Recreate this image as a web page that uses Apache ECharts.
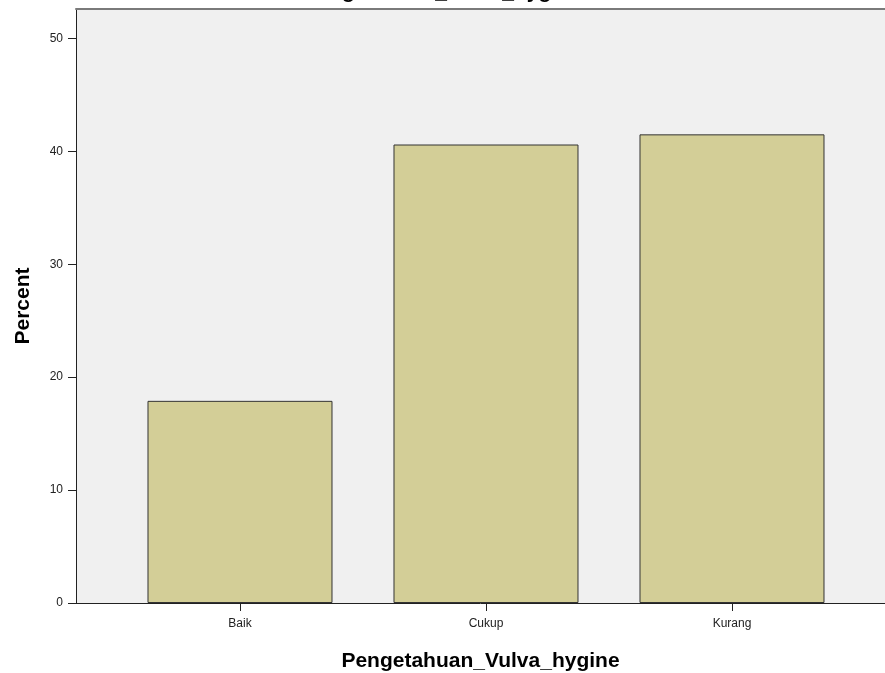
<!DOCTYPE html>
<html>
<head>
<meta charset="utf-8">
<script src="https://cdn.jsdelivr.net/npm/echarts@6/dist/echarts.min.js"></script>
<style>
html,body{margin:0;padding:0;background:#fff;}
#c{width:885px;height:673px;}
</style>
</head>
<body>
<div id="c"></div>
<script>
const categories = ["Baik", "Cukup", "Kurang"];
const percentValues = [17.9, 40.6, 41.5];
const yTicks = [0, 10, 20, 30, 40, 50];
const chartTitle = "Pengetahuan_Vulva_hygine";
const xTitle = "Pengetahuan_Vulva_hygine";
const yTitle = "Percent";

const chart = echarts.init(document.getElementById('c'), null, {renderer: 'canvas'});
const font = 'Arial, "Liberation Sans", sans-serif';
const catIdx = categories.map((_, i) => i);
chart.setOption({
  animation: false,
  backgroundColor: '#ffffff',
  title: {
    text: chartTitle,
    left: 'center',
    top: -23,
    textStyle: {fontFamily: font, fontWeight: 'bold', fontSize: 21, color: '#000'}
  },
  grid: {
    left: 76, top: 9, right: 0, bottom: 70,
    show: true, backgroundColor: '#F0F0F0', borderWidth: 0,
    containLabel: false,
    outerBoundsMode: 'none'
  },
  xAxis: [{
    type: 'value',
    min: -2/3, max: 2.622,
    name: xTitle,
    nameLocation: 'middle',
    nameGap: 48,
    nameTextStyle: {fontFamily: font, fontWeight: 'bold', fontSize: 21, color: '#000'},
    axisLine: {show: true, onZero: false, lineStyle: {color: '#222', width: 1}},
    axisTick: {show: true, customValues: catIdx, length: 8, inside: false, lineStyle: {color: '#222'}},
    axisLabel: {
      customValues: catIdx, margin: 15,
      formatter: v => categories[Math.round(v)] || '',
      fontFamily: font, fontSize: 12, color: '#222'
    },
    splitLine: {show: false}
  }, {
    type: 'value',
    position: 'top',
    min: -2/3, max: 2.622,
    axisLine: {show: true, onZero: false, lineStyle: {color: '#7a7a7a', width: 2}},
    axisTick: {show: false},
    axisLabel: {show: false},
    splitLine: {show: false}
  }],
  yAxis: {
    type: 'value',
    min: 0, max: 52.6,
    name: yTitle,
    nameLocation: 'middle',
    nameGap: 42,
    nameRotate: 90,
    nameTextStyle: {fontFamily: font, fontWeight: 'bold', fontSize: 21, color: '#000'},
    axisLine: {show: true, onZero: false, lineStyle: {color: '#222', width: 1}},
    axisTick: {show: true, customValues: yTicks, length: 8, lineStyle: {color: '#222'}},
    axisLabel: {customValues: yTicks, margin: 13, fontFamily: font, fontSize: 12, color: '#222'},
    splitLine: {show: false}
  },
  series: [{
    type: 'bar',
    xAxisIndex: 0,
    data: percentValues.map((v, i) => [i, v]),
    barWidth: 185,
    itemStyle: {color: '#D3CE97', borderColor: '#333', borderWidth: 1}
  }]
});
</script>
</body>
</html>
